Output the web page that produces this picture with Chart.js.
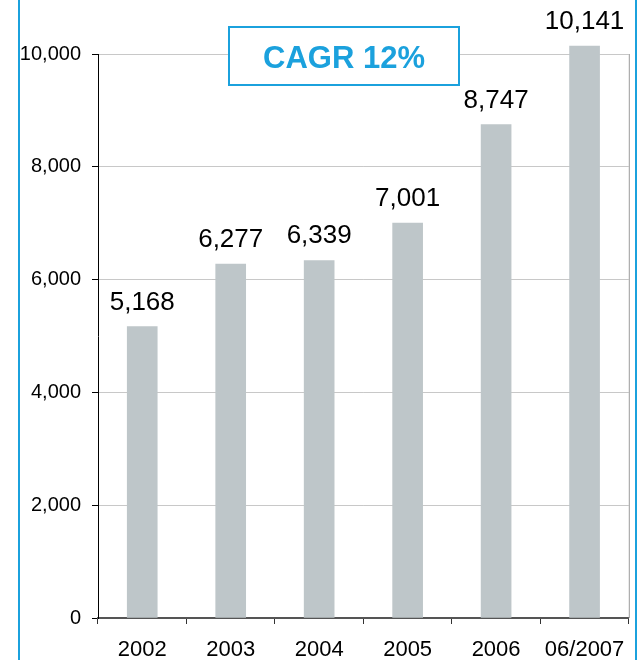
<!DOCTYPE html>
<html>
<head>
<meta charset="utf-8">
<script src="https://cdn.jsdelivr.net/npm/chart.js@4.4.1/dist/chart.umd.min.js"></script>
<style>
  html, body { margin: 0; padding: 0; background: #fff; }
  #wrap { position: relative; width: 638px; height: 660px; }
</style>
</head>
<body>
<div id="wrap"><canvas id="cagrChart"></canvas></div>
<script>
// data
const years = ['2002', '2003', '2004', '2005', '2006', '06/2007'];
const totals = [5168, 6277, 6339, 7001, 8747, 10141];
const yTicks = [0, 2000, 4000, 6000, 8000, 10000];
const badgeText = 'CAGR 12%';

const fmt = v => v.toLocaleString('en-US');
const blue = '#1ba1dd';

// value labels above bars + plot frame + CAGR box + side rules
const decorations = {
    id: 'decorations',
    beforeDraw(chart) {
        const c = chart.ctx;
        c.save();
        c.fillStyle = blue;
        c.fillRect(18, 0, 2, chart.height);
        c.fillRect(635, 0, 2, chart.height);
        c.restore();
    },
    afterDatasetsDraw(chart) {
        const c = chart.ctx;
        const area = chart.chartArea;
        c.save();
        // right frame line
        c.strokeStyle = '#9a9a9a';
        c.lineWidth = 1;
        c.beginPath();
        c.moveTo(area.right + 0.5, area.top);
        c.lineTo(area.right + 0.5, area.bottom);
        c.stroke();

        // value labels
        c.fillStyle = '#000';
        c.font = '26px "Liberation Sans", Arial, sans-serif';
        c.textAlign = 'center';
        c.textBaseline = 'alphabetic';
        chart.getDatasetMeta(0).data.forEach((bar, i) => {
            c.fillText(fmt(totals[i]), bar.x, bar.y - 17);
        });

        // CAGR badge
        c.fillStyle = '#fff';
        c.fillRect(228, 26, 232, 60);
        c.strokeStyle = blue;
        c.lineWidth = 2;
        c.strokeRect(229, 27, 230, 58);
        c.fillStyle = blue;
        c.font = 'bold 31px "Liberation Sans", Arial, sans-serif';
        c.textBaseline = 'alphabetic';
        c.fillText(badgeText, 344, 68);
        c.restore();
    }
};

document.addEventListener('DOMContentLoaded', function () {
    const ctx = document.getElementById('cagrChart').getContext('2d');
    new Chart(ctx, {
        type: 'bar',
        data: {
            labels: years,
            datasets: [{
                data: totals,
                backgroundColor: '#bec6c9',
                borderWidth: 0,
                barThickness: 30,
                clip: false
            }]
        },
        options: {
            responsive: true,
            maintainAspectRatio: false,
            animation: false,
            layout: { padding: { left: 0, top: 54, right: 8, bottom: 0 } },
            plugins: {
                legend: { display: false },
                tooltip: { enabled: false }
            },
            scales: {
                x: {
                    afterFit: s => { s.height = 42; },
                    grid: {
                        offset: true,
                        drawOnChartArea: false,
                        tickColor: '#333',
                        tickLength: 6
                    },
                    border: { color: '#555', width: 2 },
                    ticks: {
                        color: '#000',
                        padding: 13,
                        font: { family: '"Liberation Sans", Arial, sans-serif', size: 22 }
                    }
                },
                y: {
                    min: 0,
                    max: 10000,
                    afterFit: s => { s.width = 98; },
                    afterBuildTicks: s => { s.ticks = yTicks.map(v => ({ value: v })); },
                    grid: {
                        color: '#c8c8c8',
                        tickColor: '#000',
                        tickLength: 6
                    },
                    border: { color: '#000', width: 1 },
                    ticks: {
                        color: '#000',
                        padding: 11,
                        callback: v => fmt(v),
                        font: { family: '"Liberation Sans", Arial, sans-serif', size: 20 }
                    }
                }
            }
        },
        plugins: [decorations]
    });
});
</script>
</body>
</html>
